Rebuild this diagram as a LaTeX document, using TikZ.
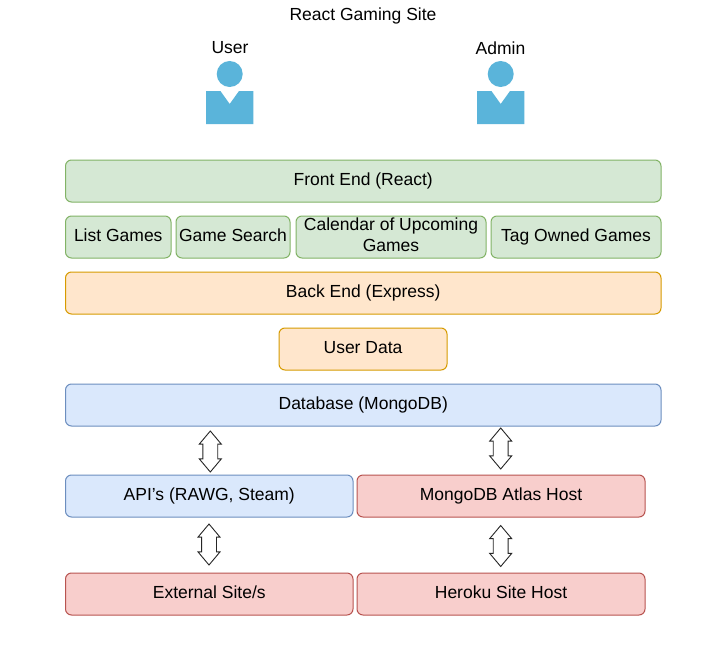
\documentclass[tikz,border=0pt]{standalone}
\usepackage{fontspec}
\setmainfont{Liberation Sans}
\usetikzlibrary{shapes.arrows}
\definecolor{gfill}{HTML}{D5E8D4}\definecolor{gline}{HTML}{82B366}
\definecolor{ofill}{HTML}{FFE6CC}\definecolor{oline}{HTML}{D79B00}
\definecolor{bfill}{HTML}{DAE8FC}\definecolor{bline}{HTML}{6C8EBF}
\definecolor{rfill}{HTML}{F8CECC}\definecolor{rline}{HTML}{B85450}
\definecolor{person}{HTML}{5AB4DA}
\tikzset{
  x=1pt,y=-1pt,
  txt/.style={font=\fontsize{17.5}{21}\selectfont,align=center,inner sep=0pt,text=black},
  boxbase/.style={draw,rounded corners=6pt,line width=1pt,inner sep=0pt,
     font=\fontsize{17.5}{21}\selectfont,text=black},
  gbox/.style={boxbase,fill=gfill,draw=gline},
  obox/.style={boxbase,fill=ofill,draw=oline},
  bbox/.style={boxbase,fill=bfill,draw=bline},
  rbox/.style={boxbase,fill=rfill,draw=rline},
  updown/.style={draw=black!85,fill=white,line width=0.9pt,shape=double arrow,rotate=90,
     minimum height=41pt,minimum width=22pt,double arrow head extend=2pt,
     double arrow tip angle=80,inner sep=0pt,text height=7.5pt,text depth=0pt},
  personshape/.style={fill=person,draw=none}
}
\newcommand{\boxat}[7]{\node[#1,minimum width=#5-#3,minimum height=#6-#4] (#2) at ({(#3+#5)/2},{(#4+#6)/2}) {\raisebox{-4.5pt}[0pt][0pt]{\begin{tabular}{@{}c@{}}#7\end{tabular}}};}
\newcommand{\persondraw}[1]{%
  \fill[personshape] (#1,74) circle[radius=13];
  \fill[personshape] (#1-23.7,91) -- (#1-9.3,91) -- (#1,104) -- (#1+9.3,91) -- (#1+23.7,91) -- (#1+23.7,124) -- (#1-23.7,124) -- cycle;
}
\begin{document}
\begin{tikzpicture}
\useasboundingbox[fill=white] (0,0) rectangle (725,661);
\node[txt] (title) at (363,15.5) {React Gaming Site};
\node[txt] (user) at (230,48) {User};
\node[txt] (admin) at (500.5,48) {Admin};
\persondraw{229.7}
\persondraw{500.7}
\boxat{gbox}{front}{65.5}{160}{661}{202}{Front End (React)}
\boxat{gbox}{list}{65.5}{216}{171}{258}{List Games}
\boxat{gbox}{search}{176}{216}{290}{258}{Game Search}
\boxat{gbox}{cal}{296}{216}{486}{258}{Calendar of Upcoming\\Games}
\boxat{gbox}{tag}{491}{216}{661}{258}{Tag Owned Games}
\boxat{obox}{back}{65.5}{272}{661}{314}{Back End (Express)}
\boxat{obox}{udata}{279}{328}{447}{370}{User Data}
\boxat{bbox}{db}{65.5}{384}{661}{426}{Database (MongoDB)}
\boxat{bbox}{api}{65.5}{475}{353}{517}{API's (RAWG, Steam)}
\boxat{rbox}{atlas}{357}{475}{645}{517}{MongoDB Atlas Host}
\boxat{rbox}{ext}{65.5}{573}{353}{615}{External Site/s}
\boxat{rbox}{heroku}{357}{573}{645}{615}{Heroku Site Host}
\node[updown] (a1) at (210.3,451.5) {};
\node[updown] (a2) at (500.7,448.5) {};
\node[updown] (a3) at (209,544.5) {};
\node[updown] (a4) at (500.7,546) {};
\end{tikzpicture}
\end{document}
